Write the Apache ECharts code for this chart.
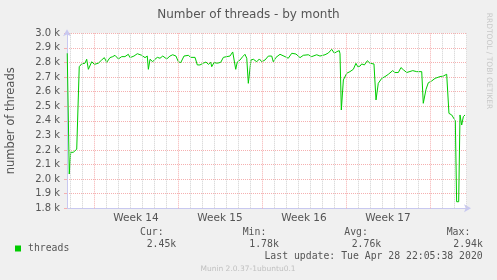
<!DOCTYPE html>
<html>
<head>
<meta charset="utf-8">
<script src="https://cdn.jsdelivr.net/npm/echarts@6/dist/echarts.min.js"></script>
<style>
html,body{margin:0;padding:0;background:#f0f0f0;}
#c{width:497px;height:280px;}
</style>
</head>
<body>
<div id="c"></div>
<script>
// time in days relative to Monday 00:00 of week 14
const days = [-2.23,-2.06,-1.94,-1.73,-1.44,-1.33,-1.23,-1.03,-0.75,-0.61,-0.47,-0.19,0.03,0.36,0.64,0.86,1.06,1.33,1.56,1.75,2.03,2.31,2.58,2.86,3.0,3.33,3.61,3.98,4.25,4.44,4.53,4.67,4.89,5.08,5.28,5.5,5.73,6.06,6.33,6.56,6.83,7.03,7.23,7.5,7.86,8.06,8.42,8.61,8.83,9.11,9.33,9.53,9.73,9.81,10.0,10.28,10.56,10.78,11.06,11.33,11.56,11.67,11.81,11.94,12.17,12.39,12.58,12.73,12.86,13.0,13.08,13.28,13.56,13.78,13.98,14.25,14.53,14.81,14.94,15.17,15.5,15.92,16.19,16.48,16.83,17.17,17.44,17.86,18.14,18.56,18.83,19.25,19.53,19.81,20.03,20.23,20.44,20.5,20.61,20.78,21.06,21.33,21.61,21.83,21.98,22.17,22.31,22.53,22.78,23.0,23.33,23.5,23.69,23.98,24.25,24.53,24.89,25.08,25.36,25.58,25.78,26.06,26.56,26.89,27.31,27.39,27.44,27.67,27.86,28.14,28.42,28.83,29.11,29.39,29.58,29.81,29.94,30.11,30.22,30.39,30.5,30.64,30.78,30.92];
const threads = [2863,2035,2184,2184,2205,2207,2771,2790,2795,2822,2753,2805,2787,2795,2817,2833,2801,2833,2840,2849,2824,2840,2840,2856,2833,2844,2860,2849,2833,2844,2753,2822,2805,2822,2835,2829,2844,2824,2844,2853,2844,2805,2799,2844,2849,2835,2835,2783,2783,2795,2803,2787,2801,2771,2799,2795,2801,2835,2840,2844,2872,2865,2753,2803,2817,2840,2856,2829,2657,2646,2817,2822,2805,2824,2805,2817,2844,2844,2805,2835,2856,2840,2829,2863,2858,2833,2849,2853,2840,2853,2844,2853,2865,2890,2863,2874,2881,2860,2474,2680,2726,2737,2753,2794,2771,2775,2790,2783,2812,2794,2790,2543,2657,2691,2703,2719,2744,2731,2731,2765,2750,2731,2744,2737,2737,2737,2520,2616,2661,2673,2691,2703,2707,2719,2451,2440,2440,2400,1845,1845,2440,2371,2429,2440,2445];
const weekNumbers = [14, 15, 16, 17];
const weekStarts = [0, 7, 14, 21, 28];   // Monday boundaries (days)
const yTicks = [1800, 3000, 100];
const statLabels = ['Cur:', 'Min:', 'Avg:', 'Max:'];
const statValues = ['2.45k', '1.78k', '2.76k', '2.94k'];
const seriesName = 'threads';
const titleText = 'Number of threads - by month';
const yName = 'number of threads';
const lastUpdate = 'Last update: Tue Apr 28 22:05:38 2020';
const footer = 'Munin 2.0.37-1ubuntu0.1';
const sideText = 'RRDTOOL / TOBI OETIKER';

const X_MIN = -2.25, X_MAX = 400 / 12 - 2.25;
const LAV = '#c8c8f0';
const MONO = '"DejaVu Sans Mono", monospace';
const SANS = '"DejaVu Sans", sans-serif';
const TXT = '#555';
const MAJ = '#f5b0b0';
const MIN_C = '#cfcfcf';

const chart = echarts.init(document.getElementById('c'), null, {renderer: 'canvas'});
const data = days.map((d, i) => [d, threads[i]]);

// day grid lines (style only)
const dayLines = [];
for (let d = Math.ceil(X_MIN); d <= Math.floor(X_MAX); d++) {
  if (weekStarts.indexOf(d) < 0) dayLines.push({xAxis: d});
}
const weekLines = weekStarts.map(d => ({xAxis: d}));

const statX = [140, 242.7, 344.3, 446.7];
const valX = [146.7, 249.3, 351.7, 453.3];
const graphics = [];
statLabels.forEach((s, i) => {
  graphics.push({type: 'text', x: statX[i], y: 232.7, style: {text: s, font: '9.8px ' + MONO, fill: TXT, textAlign: 'left', textVerticalAlign: 'middle'}});
  graphics.push({type: 'text', x: valX[i], y: 244.3, style: {text: statValues[i], font: '9.8px ' + MONO, fill: TXT, textAlign: 'left', textVerticalAlign: 'middle'}});
});
graphics.push({type: 'text', x: 482.7, y: 256, style: {text: lastUpdate, font: '9.8px ' + MONO, fill: TXT, textAlign: 'right', textVerticalAlign: 'middle'}});
graphics.push({type: 'text', x: 248, y: 269.3, style: {text: footer, font: '7.5px ' + SANS, fill: '#c0c0c0', textAlign: 'center', textVerticalAlign: 'middle'}});
graphics.push({type: 'text', x: 489, y: 61, rotation: -Math.PI / 2, style: {text: sideText, font: '7.5px ' + SANS, fill: '#c8c8c8', textAlign: 'center', textVerticalAlign: 'middle'}});

const gridLineSeries = (name, lines, color) => ({
  name: name, type: 'line', data: [], z: 1, silent: true,
  markLine: {
    silent: true, symbol: ['none', 'none'], animation: false,
    label: {show: false}, emphasis: {disabled: true},
    lineStyle: {color: color, type: [1, 1], width: 1},
    data: lines
  }
});

const option = {
  backgroundColor: '#f0f0f0',
  animation: false,
  title: {text: titleText, left: 'center', top: 4, textStyle: {fontFamily: SANS, fontSize: 12, fontWeight: 'normal', color: TXT}},
  legend: {
    data: [seriesName], left: 10, top: 238.5, icon: 'rect', itemWidth: 6, itemHeight: 6,
    textStyle: {fontFamily: MONO, fontSize: 9.8, color: TXT, padding: [0, 0, 0, 2]}
  },
  grid: {left: 67, right: 30, top: 33.3, bottom: 71.7, show: true, backgroundColor: '#ffffff', borderWidth: 0,
         containLabel: false, outerBoundsMode: 'none'},
  xAxis: {
    type: 'value', min: X_MIN, max: X_MAX,
    axisLine: {show: true, onZero: false, lineStyle: {color: LAV, width: 1}, symbol: ['none', 'arrow'], symbolSize: [6, 7], symbolOffset: [0, 4]},
    axisTick: {show: false}, axisLabel: {show: false}, splitLine: {show: false}
  },
  yAxis: {
    type: 'value', min: yTicks[0], max: yTicks[1], interval: yTicks[2],
    name: yName, nameLocation: 'middle', nameGap: 50,
    nameTextStyle: {fontFamily: SANS, fontSize: 11.5, color: TXT},
    axisLine: {show: true, onZero: false, lineStyle: {color: LAV, width: 1}, symbol: ['none', 'arrow'], symbolSize: [6, 7], symbolOffset: [0, 4]},
    axisTick: {show: true, length: 3, lineStyle: {color: MAJ}},
    axisLabel: {fontFamily: SANS, fontSize: 10, color: TXT, margin: 7, formatter: v => (v / 1000).toFixed(1) + ' k'},
    splitLine: {show: true, showMinLine: false, showMaxLine: true, lineStyle: {color: MAJ, type: [1, 1], width: 1}}
  },
  series: [
    gridLineSeries('dayGrid', dayLines, MIN_C),
    gridLineSeries('weekGrid', weekLines, MAJ),
    {
      name: seriesName, type: 'line', data: data, showSymbol: false, symbol: 'none', z: 3,
      lineStyle: {color: '#00cc00', width: 1}, itemStyle: {color: '#00cc00'}
    }
  ],
  graphic: graphics
};
chart.setOption(option);

// week labels centred in each week, positioned through the x scale
const yLab = chart.convertToPixel({yAxisIndex: 0}, yTicks[0]) + 9.5;
weekNumbers.forEach((w, i) => {
  const cx = chart.convertToPixel({xAxisIndex: 0}, (weekStarts[i] + weekStarts[i + 1]) / 2);
  graphics.push({type: 'text', x: cx, y: yLab, style: {text: 'Week ' + w, font: '10.5px ' + SANS, fill: TXT, textAlign: 'center', textVerticalAlign: 'middle'}});
});
chart.setOption({graphic: graphics});
</script>
</body>
</html>
